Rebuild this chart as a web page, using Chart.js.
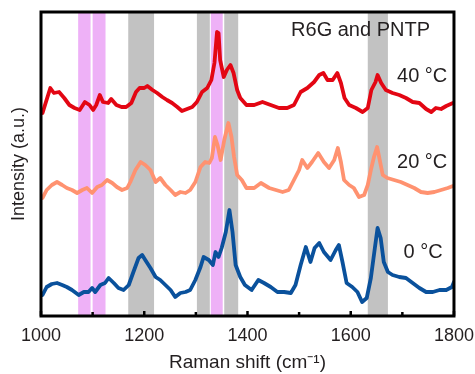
<!DOCTYPE html>
<html>
<head>
<meta charset="utf-8">
<script src="https://cdn.jsdelivr.net/npm/chart.js@4.4.1/dist/chart.umd.min.js"></script>
<style>
  html, body { margin: 0; padding: 0; background: #fff; }
  #wrap { width: 475px; height: 374px; }
</style>
</head>
<body>
<div id="wrap"><canvas id="ramanChart" width="475" height="374"></canvas></div>
<script>
// wavenumbers (cm-1) and intensities (a.u., offset traces)
const shift40 = [1003,1018,1025,1035,1045,1055,1065,1075,1085,1094,1101,1107,1114,1120,1130,1136,1146,1156,1165,1175,1184,1191,1200,1206,1216,1225,1235,1244,1254,1264,1273,1283,1293,1302,1312,1322,1330,1336,1341,1344,1347,1354,1360,1367,1373,1380,1386,1398,1413,1429,1445,1461,1477,1490,1503,1516,1529,1539,1547,1555,1565,1574,1581,1588,1597,1610,1623,1633,1640,1648,1652,1659,1668,1681,1694,1707,1720,1733,1746,1756,1765,1775,1785,1798];
const int40 = [203,228,223,224,218,211,208,206,214,211,206,211,221,214,213,217,211,209,209,213,224,228,228,230,226,223,219,216,213,209,205,207,209,214,224,228,236,253,284,283,256,239,246,251,243,226,218,211,211,214,211,208,208,211,224,228,234,241,243,236,236,243,233,218,211,208,204,208,226,234,241,233,226,223,221,218,214,213,207,204,208,207,210,213];

const shift20 = [1003,1011,1021,1031,1041,1050,1060,1070,1080,1089,1099,1109,1118,1128,1138,1147,1157,1167,1173,1183,1193,1202,1212,1222,1231,1241,1251,1260,1270,1280,1289,1299,1309,1318,1326,1331,1337,1342,1348,1355,1363,1369,1374,1380,1389,1398,1413,1426,1442,1455,1468,1480,1490,1500,1506,1516,1525,1537,1548,1558,1568,1575,1581,1587,1597,1606,1616,1626,1633,1639,1645,1651,1655,1662,1671,1684,1697,1710,1723,1736,1749,1762,1775,1788,1798];
const int20 = [118,126,131,134,131,128,126,123,126,128,123,129,131,136,133,129,126,128,134,146,154,151,146,134,138,131,126,121,124,123,126,134,149,154,153,158,179,171,156,176,193,179,159,141,136,128,128,133,128,126,124,126,136,146,156,148,154,163,154,148,156,168,154,136,131,128,119,121,131,146,159,169,159,141,138,136,134,131,128,124,123,124,126,128,130];

const shift0 = [1003,1011,1021,1031,1041,1050,1060,1073,1083,1092,1099,1105,1115,1124,1131,1141,1150,1160,1170,1179,1189,1196,1202,1212,1222,1231,1241,1251,1260,1270,1280,1289,1299,1309,1315,1325,1333,1338,1344,1350,1358,1365,1371,1377,1386,1395,1408,1421,1432,1445,1458,1471,1484,1493,1503,1513,1522,1530,1539,1548,1561,1571,1577,1584,1592,1603,1613,1622,1631,1639,1647,1652,1658,1664,1672,1681,1694,1707,1720,1733,1746,1759,1772,1785,1796,1800];
const int0 = [21,29,32,33,31,29,26,21,24,24,28,24,31,33,38,33,28,26,31,44,58,61,56,48,39,36,31,26,19,23,24,26,36,49,59,56,51,64,59,68,84,106,84,51,39,31,26,36,33,29,24,24,23,31,51,69,54,68,73,64,56,66,71,54,33,29,24,14,18,38,69,88,78,54,44,41,39,38,33,28,24,24,26,26,29,34];

// highlighted bands [from, to] in cm-1
const pinkBands = [[1072,1096],[1100,1125],[1329,1352]];
const grayBands = [[1169,1219],[1302,1327],[1355,1382],[1633,1672]];

const xMajorTicks = [1000,1200,1400,1600,1800];
const xMinorTicks = [1100,1300,1500,1700];

const seriesNames = ['40 °C','20 °C','0 °C'];
const seriesColors = ['#e30613','#ff9270','#0a519c'];
// label anchors in data units: [x, y, align]
const labelAnchors = [[1787,240,'right'],[1787,154,'right'],[1778,64,'right']];
const headerText = 'R6G and PNTP';
const headerAnchor = [1619,286];

const FONT = "'Liberation Sans', Arial, sans-serif";

function toPts(xs, ys){ return xs.map((x,i)=>({x:x, y:ys[i]})); }

const bandsPlugin = {
  id: 'bands',
  beforeDatasetsDraw(chart){
    const {ctx, chartArea:{top,bottom}, scales:{x}} = chart;
    ctx.save();
    const fillBands = (list, color) => {
      ctx.fillStyle = color;
      list.forEach(b => {
        const a = x.getPixelForValue(b[0]), c = x.getPixelForValue(b[1]);
        ctx.fillRect(a, top, c - a, bottom - top);
      });
    };
    fillBands(grayBands, '#c2c2c2');
    fillBands(pinkBands, '#eeb1f7');
    ctx.restore();
  }
};

const framePlugin = {
  id: 'frame',
  afterDraw(chart){
    const {ctx, chartArea:{left,top,right,bottom}, scales:{x,y}} = chart;
    ctx.save();
    ctx.strokeStyle = '#000';
    ctx.lineWidth = 3;
    ctx.strokeRect(left, top, right-left, bottom-top);
    // inward ticks
    ctx.lineWidth = 2.5;
    xMajorTicks.forEach(v => {
      const p = x.getPixelForValue(v);
      ctx.beginPath(); ctx.moveTo(p, bottom); ctx.lineTo(p, bottom-5); ctx.stroke();
    });
    xMinorTicks.forEach(v => {
      const p = x.getPixelForValue(v);
      ctx.beginPath(); ctx.moveTo(p, bottom); ctx.lineTo(p, bottom-4); ctx.stroke();
    });
    // text labels
    ctx.fillStyle = '#231f20';
    ctx.font = '20px ' + FONT;
    ctx.textBaseline = 'middle';
    ctx.textAlign = 'center';
    ctx.fillText(headerText, x.getPixelForValue(headerAnchor[0]), y.getPixelForValue(headerAnchor[1]));
    labelAnchors.forEach((a,i) => {
      ctx.textAlign = a[2];
      ctx.fillText(seriesNames[i], x.getPixelForValue(a[0]), y.getPixelForValue(a[1]));
    });
    ctx.restore();
  }
};

const ctx = document.getElementById('ramanChart').getContext('2d');
const ramanChart = new Chart(ctx, {
  type: 'line',
  data: {
    datasets: [
      { label: seriesNames[0], data: toPts(shift40,int40), borderColor: seriesColors[0] },
      { label: seriesNames[1], data: toPts(shift20,int20), borderColor: seriesColors[1] },
      { label: seriesNames[2], data: toPts(shift0,int0), borderColor: seriesColors[2] }
    ]
  },
  options: {
    responsive: false,
    animation: false,
    layout: { padding: { top: 12, right: 0, left: 0, bottom: 0 } },
    elements: {
      point: { radius: 0 },
      line: { borderWidth: 3.8, tension: 0, borderJoinStyle: 'round', borderCapStyle: 'round' }
    },
    plugins: { legend: { display: false }, tooltip: { enabled: false } },
    scales: {
      x: {
        type: 'linear', min: 1000, max: 1800,
        afterFit(s){ s.height = 58; },
        grid: { display: false },
        border: { display: false },
        ticks: {
          stepSize: 200, padding: 1, color: '#231f20',
          font: { family: FONT, size: 18 },
          maxRotation: 0,
          callback: v => String(v)
        },
        title: {
          display: true, text: 'Raman shift (cm\u207B\u00B9)', color: '#231f20',
          font: { family: FONT, size: 19 }, padding: { top: 0, bottom: 0 }
        }
      },
      y: {
        min: 0, max: 304,
        afterFit(s){ s.width = 41; },
        grid: { display: false },
        border: { display: false },
        ticks: { display: false },
        title: {
          display: true, text: 'Intensity (a.u.)', color: '#231f20',
          font: { family: FONT, size: 18 }, padding: { top: 8, bottom: 0 }
        }
      }
    }
  },
  plugins: [bandsPlugin, framePlugin]
});
</script>
</body>
</html>
